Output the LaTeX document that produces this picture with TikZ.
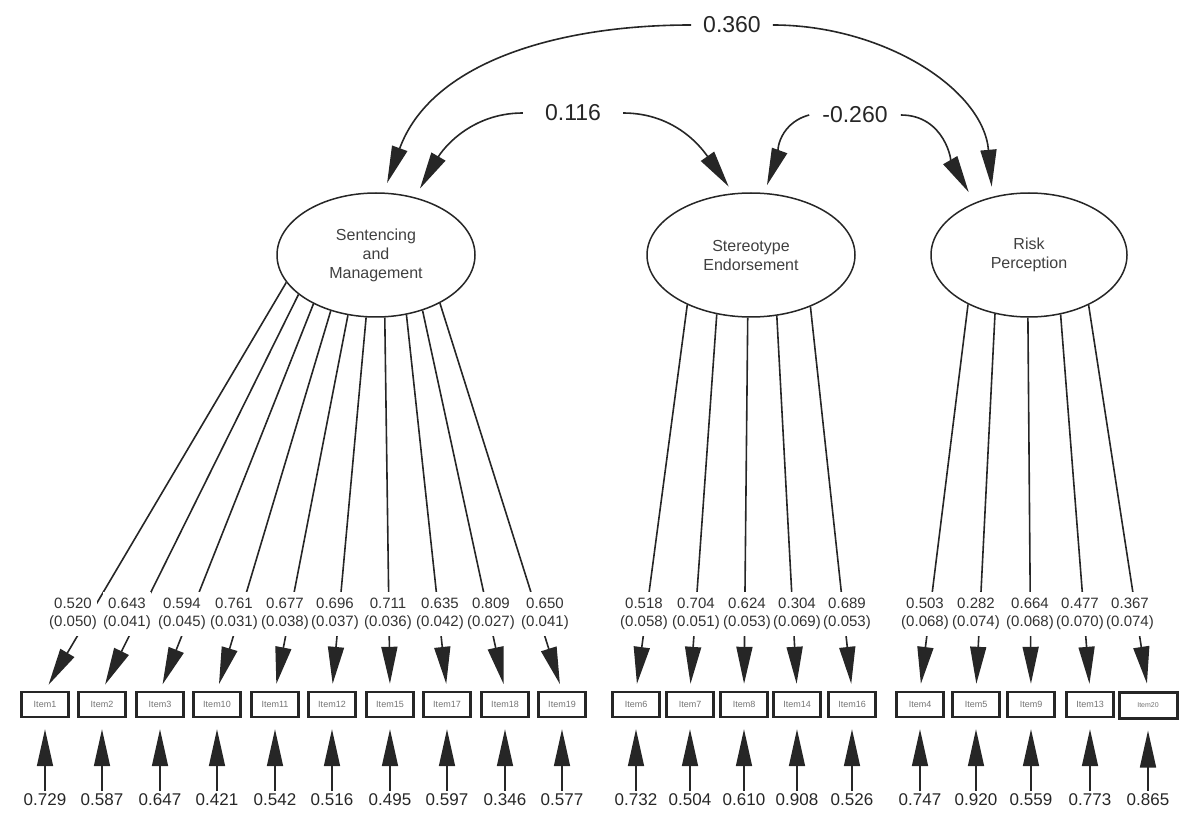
\documentclass[tikz,border=0pt]{standalone}
\usepackage{fontspec}
\setmainfont{Liberation Sans}
\usetikzlibrary{shapes.geometric,arrows.meta}

\tikzset{
  latent/.style = {ellipse, draw=black!85, line width=1.5pt, minimum height=124pt,
                   inner sep=0pt, align=center, text=black!75, font=\fontsize{16}{19}\selectfont},
  obs/.style    = {draw=black!85, line width=2.4pt, minimum width=47pt, minimum height=25pt,
                   inner sep=0pt, text=black!55, font=\fontsize{9}{10}\selectfont},
  ld/.style     = {fill=white, inner xsep=0.5pt, inner ysep=6pt, align=center,
                   text=black!80, font=\fontsize{15}{18}\selectfont},
  res/.style    = {inner sep=3pt, text=black!85, font=\fontsize{17}{20}\selectfont},
  cov/.style    = {inner ysep=2pt, text=black!85, font=\fontsize{23}{26}\selectfont},
  arr/.style    = {line width=1.6pt, draw=black!85, -{Triangle[length=37pt,width=16pt]}}
}

\begin{document}
\begin{tikzpicture}[x=1pt, y=-1pt]
  \useasboundingbox (0,0) rectangle (1181,826);

  % factors
  \node[latent, minimum width=198pt] (SM) at (376,255) {Sentencing\\and\\Management};
  \node[latent, minimum width=208pt] (SE) at (751,255) {Stereotype\\Endorsement};
  \node[latent, minimum width=196pt] (RP) at (1029,255) {Risk\\Perception};

  % factor covariances
  \node[cov, inner xsep=12pt] (c360) at (732,25) {0.360};
  \node[cov, inner xsep=22pt] (c116) at (573,113) {0.116};
  \node[cov, inner xsep=13pt] (c260) at (855,115) {-0.260};
  \draw[arr, shorten >=10pt] (c360) to[out=180,in=70] (SM.83);
  \draw[arr, shorten >=10pt] (c360) to[out=0,in=95] (RP.122);
  \draw[arr, shorten >=10pt] (c116) to[out=180,in=60] (SM.56);
  \draw[arr, shorten >=8pt] (c116) to[out=0,in=125] (SE.106);
  \draw[arr, shorten >=8pt] (c260.west) to[out=195,in=70] (SE.78);
  \draw[arr, shorten >=12pt] (c260) to[out=0,in=120] (RP.136);

  % Sentencing and Management items
  \foreach \n/\x/\lx/\a/\lv/\sv/\rv in {1/45/73/197/0.520/0.050/0.729,
      2/102/127/207/0.643/0.041/0.587, 3/160/182/218/0.594/0.045/0.647,
      10/217/234/231/0.761/0.031/0.421, 11/275/285/245/0.677/0.038/0.542,
      12/332/335/261/0.696/0.037/0.516, 15/390/388/278/0.711/0.036/0.495,
      17/447/440/297/0.635/0.042/0.597, 18/505/491/310/0.809/0.027/0.346,
      19/562/545/323/0.650/0.041/0.577}{
    \node[obs] (it\n) at (\x,704.5) {Item\n};
    \node[res] (r\n) at (\x,800) {\rv};
    \draw[arr, shorten >=11pt] (r\n) -- (it\n);
    \draw[arr, shorten >=7pt] (SM.\a) -- (it\n.north);
    \node[ld] (l\n) at (\lx,614) {\lv\\(\sv)};
  }

  % Stereotype Endorsement items
  \foreach \n/\x/\lx/\a/\lv/\sv/\rv in {6/636/644/218/0.518/0.058/0.732,
      7/690/696/240/0.704/0.051/0.504, 8/744/747/267/0.624/0.053/0.610,
      14/797/797/293/0.304/0.069/0.908, 16/852/847/319/0.689/0.053/0.526}{
    \node[obs] (it\n) at (\x,704.5) {Item\n};
    \node[res] (r\n) at (\x,800) {\rv};
    \draw[arr, shorten >=11pt] (r\n) -- (it\n);
    \draw[arr, shorten >=7pt] (SE.\a) -- (it\n.north);
    \node[ld] (l\n) at (\lx,614) {\lv\\(\sv)};
  }

  % Risk Perception items
  \foreach \n/\x/\lx/\a/\lv/\sv/\rv in {4/920/925/219/0.503/0.068/0.747,
      5/976/976/240/0.282/0.074/0.920, 9/1031/1030/269/0.664/0.068/0.559,
      13/1090/1080/298/0.477/0.070/0.773}{
    \node[obs] (it\n) at (\x,704.5) {Item\n};
    \node[res] (r\n) at (\x,800) {\rv};
    \draw[arr, shorten >=11pt] (r\n) -- (it\n);
    \draw[arr, shorten >=7pt] (RP.\a) -- (it\n.north);
    \node[ld] (l\n) at (\lx,614) {\lv\\(\sv)};
  }
  \node[obs, line width=3pt, minimum width=58pt, minimum height=26pt,
        font=\fontsize{7}{8}\selectfont] (it20) at (1148,705) {Item20};
  \node[res] (r20) at (1148,800) {0.865};
  \draw[arr, shorten >=11pt] (r20) -- (it20);
  \draw[arr, shorten >=7pt] (RP.320) -- (it20.north);
  \node[ld] (l20) at (1130,614) {0.367\\(0.074)};
\end{tikzpicture}
\end{document}
